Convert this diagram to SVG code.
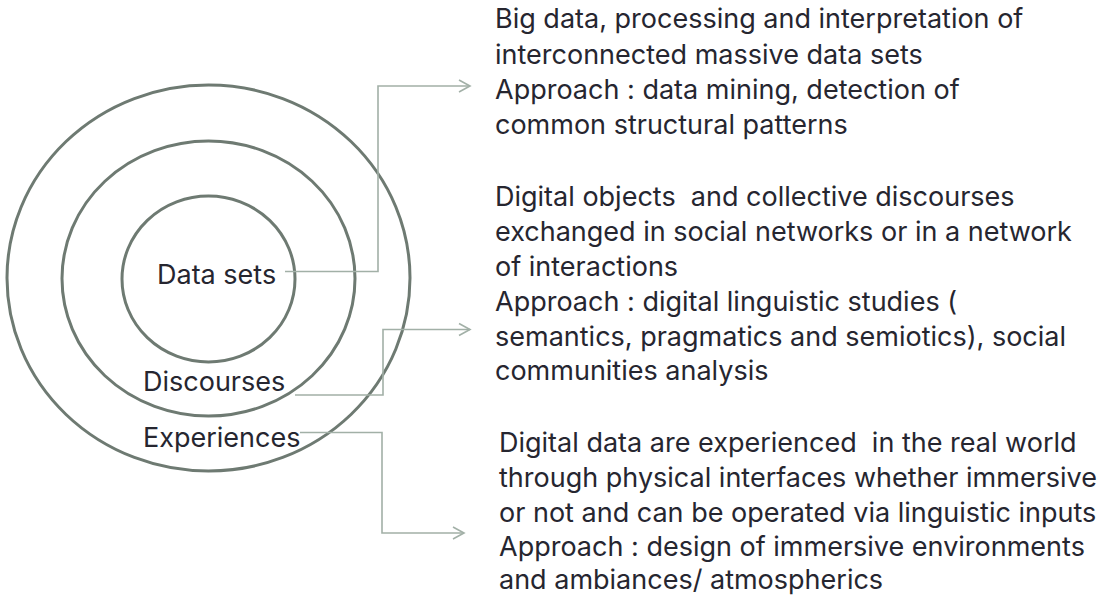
<svg xmlns="http://www.w3.org/2000/svg" width="1097" height="596" viewBox="0 0 1097 596">
<style>
  .ring { fill: none; stroke: #6e7a72; stroke-width: 3; }
  .lbl { font-family: Inter, "Liberation Sans", sans-serif; font-size: 27px; fill: #262630; white-space: pre; }
  .conn { fill: none; stroke: #a2b0a7; stroke-width: 1.6; }
</style>
<defs>
  <marker id="arr" markerUnits="userSpaceOnUse" markerWidth="16" markerHeight="16" viewBox="-13 -8 16 16" refX="0" refY="0" orient="auto">
    <path d="M-11,-6 L0,0 L-11,6" fill="none" stroke="#a2b0a7" stroke-width="1.6"/>
  </marker>
</defs>
<rect width="1097" height="596" fill="#ffffff"/>
<g id="ring-experiences"><ellipse class="ring" cx="208.5" cy="278" rx="201.5" ry="193"/></g>
<g id="ring-discourses"><ellipse class="ring" cx="208.5" cy="278.5" rx="146.5" ry="137.5"/></g>
<g id="ring-datasets"><ellipse class="ring" cx="208.5" cy="279" rx="86.5" ry="83"/></g>
<g id="connectors">
  <polyline class="conn" points="285,271.5 378,271.5 378,86 470,86" marker-end="url(#arr)"/>
  <polyline class="conn" points="295,395 383,395 383,329.5 470,329.5" marker-end="url(#arr)"/>
  <polyline class="conn" points="300,432.5 382,432.5 382,533 464,533" marker-end="url(#arr)"/>
</g>
<g id="label-datasets"><text class="lbl" x="157" y="284">Data sets</text></g>
<g id="label-discourses"><text class="lbl" x="143" y="391">Discourses</text></g>
<g id="label-experiences"><text class="lbl" x="143" y="447">Experiences</text></g>
<g id="desc-datasets">
  <text class="lbl" x="495" y="28">Big data, processing and interpretation of</text>
  <text class="lbl" x="495" y="63.5">interconnected massive data sets</text>
  <text class="lbl" x="495" y="99">Approach : data mining, detection of</text>
  <text class="lbl" x="495" y="133.5">common structural patterns</text>
</g>
<g id="desc-discourses">
  <text class="lbl" x="495" y="206">Digital objects  and collective discourses</text>
  <text class="lbl" x="495" y="241">exchanged in social networks or in a network</text>
  <text class="lbl" x="495" y="276">of interactions</text>
  <text class="lbl" x="495" y="311">Approach : digital linguistic studies (</text>
  <text class="lbl" x="495" y="345.5">semantics, pragmatics and semiotics), social</text>
  <text class="lbl" x="495" y="380">communities analysis</text>
</g>
<g id="desc-experiences">
  <text class="lbl" x="499" y="452">Digital data are experienced  in the real world</text>
  <text class="lbl" x="499" y="487">through physical interfaces whether immersive</text>
  <text class="lbl" x="499" y="521.5">or not and can be operated via linguistic inputs</text>
  <text class="lbl" x="499" y="556">Approach : design of immersive environments</text>
  <text class="lbl" x="499" y="589">and ambiances/ atmospherics</text>
</g>
</svg>
